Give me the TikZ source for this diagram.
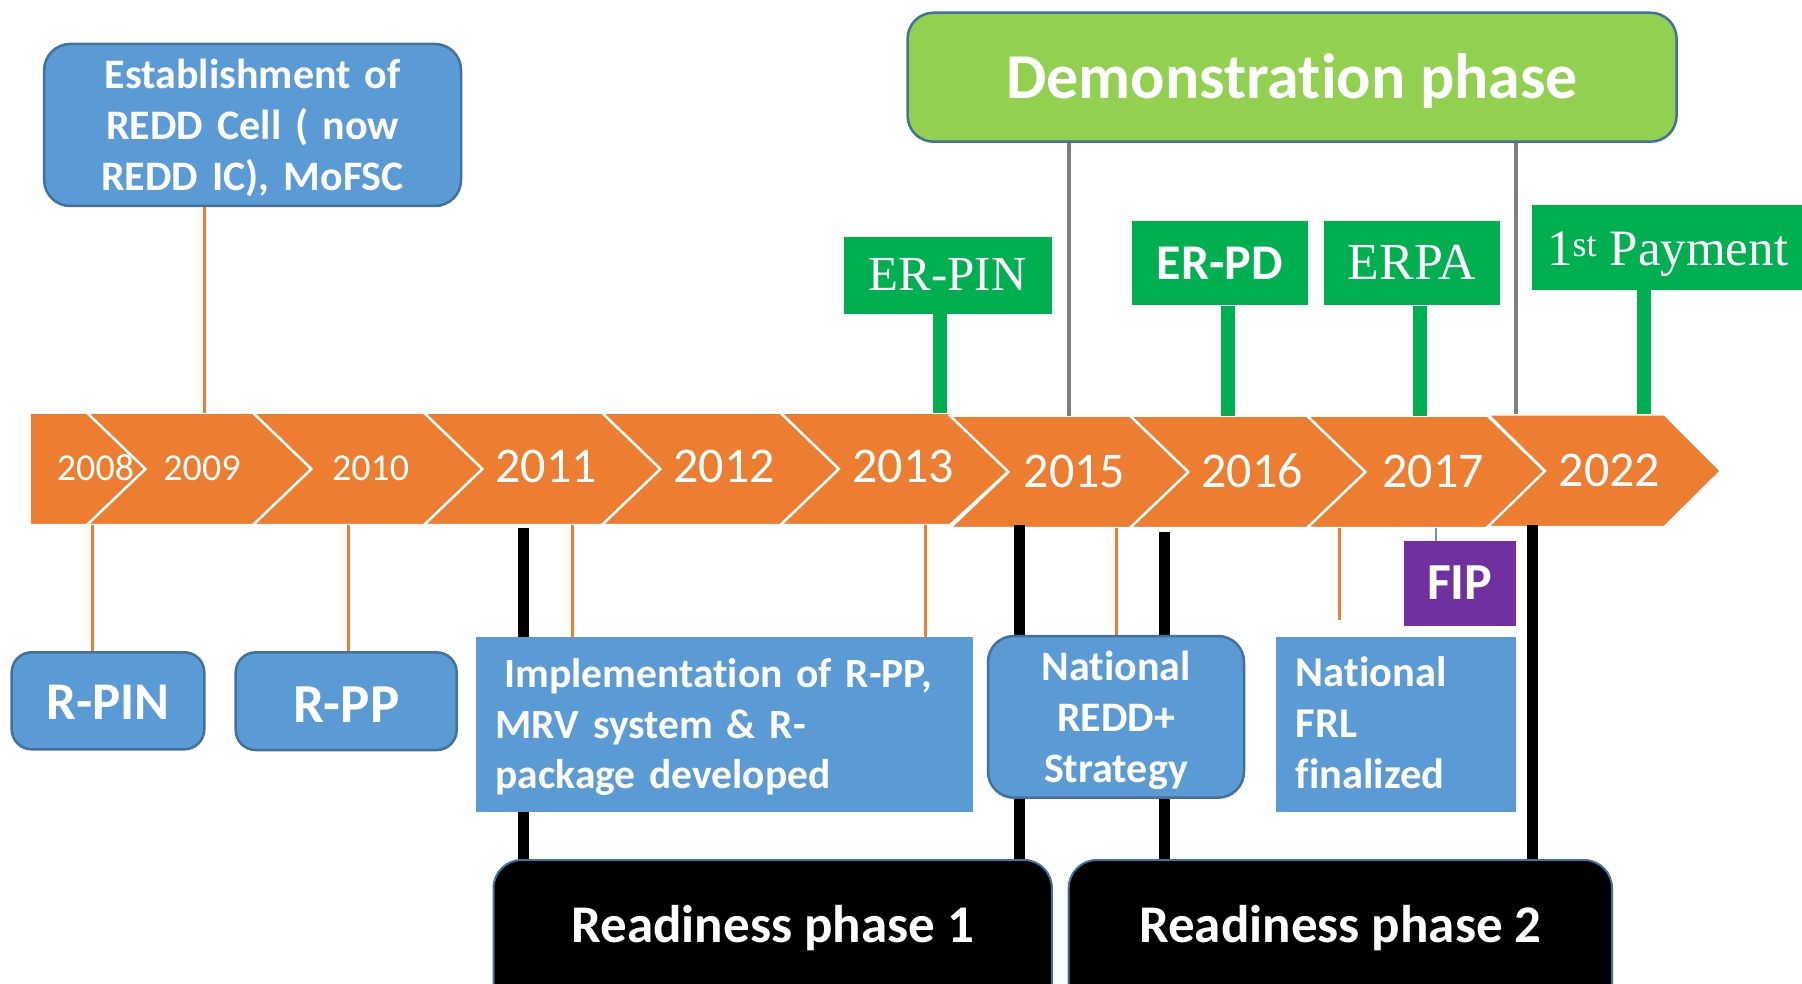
\documentclass[tikz,border=0pt]{standalone}
\usepackage{fontspec}
\setmainfont{Carlito}[Ligatures=CommonOff]
\newfontfamily\signserif{Liberation Serif}
\definecolor{bandorange}{HTML}{ED7D31}
\definecolor{boxblue}{HTML}{5B9BD5}
\definecolor{boxedge}{HTML}{41719C}
\definecolor{signgreen}{HTML}{00B050}
\definecolor{demogreen}{HTML}{92D050}
\definecolor{fippurple}{HTML}{7030A0}
\definecolor{linkgray}{HTML}{7F7F7F}
\pgfdeclarelayer{bandlayer}
\pgfdeclarelayer{linklayer}
\pgfsetlayers{bandlayer,linklayer,main}
\newcommand{\fsz}[2]{\fontsize{#1}{#2}\selectfont}
\newcommand{\tstrut}[1]{\rule{0pt}{#1}}
\newcommand{\bstrut}[1]{\rule[-#1]{0pt}{#1}}
\begin{document}
\begin{tikzpicture}[x=1pt,y=-1pt,
  chevron/.style={fill=bandorange,draw=white,line width=2.4pt,line join=miter},
  yearsmall/.style={text=white,inner sep=0pt,anchor=base,font=\fsz{38}{46}},
  yearbig/.style={text=white,inner sep=0pt,anchor=base,font=\fsz{50}{60}},
  roundblue/.style={fill=boxblue,draw=boxedge,line width=2.5pt,rounded corners=26pt,text=white,inner sep=0pt},
  flatblue/.style={fill=boxblue,draw=none,text=white,inner sep=0pt},
  signbox/.style={fill=signgreen,draw=none,text=white,inner sep=0pt},
  readybox/.style={fill=black,draw=boxedge,line width=2pt,rounded corners=28pt,text=white,inner sep=0pt,font=\fsz{53}{60}\bfseries},
  orangelink/.style={draw=bandorange,line width=3pt},
  graylink/.style={draw=linkgray,line width=4pt},
  postlink/.style={draw=signgreen,line width=14pt},
  blacklink/.style={draw=black,line width=11pt},
  bluelink/.style={draw=boxblue,line width=2pt},
]
\useasboundingbox (0,0) rectangle (1802,984);
\clip (0,0) rectangle (1802,984);

% ---------- chevron band ----------
\begin{pgfonlayer}{bandlayer}
\path[chevron] (29.7,412.7) -- (87,412.7) -- (145.5,469) -- (87,525) -- (29.7,525) -- cycle;
\path[chevron] (87,412.7) -- (253,412.7) -- (311.5,469) -- (253,525) -- (87,525) -- (145.5,469) -- cycle;
\path[chevron] (253,412.7) -- (424,412.7) -- (482.5,469) -- (424,525) -- (253,525) -- (311.5,469) -- cycle;
\path[chevron] (424,412.7) -- (602,412.7) -- (660.5,469) -- (602,525) -- (424,525) -- (482.5,469) -- cycle;
\path[chevron] (602,412.7) -- (780.5,412.7) -- (839,469) -- (780.5,525) -- (602,525) -- (660.5,469) -- cycle;
\path[chevron] (780.5,412.7) -- (950,412.7) -- (1010,470) -- (950,525) -- (780.5,525) -- (839,469) -- cycle;
\path[chevron] (950,415.7) -- (1130,415.7) -- (1188.5,472) -- (1130,528) -- (950,528) -- (1008.5,472) -- cycle;
\path[chevron] (1130,415.7) -- (1307,415.7) -- (1365.5,472) -- (1307,528) -- (1130,528) -- (1188.5,472) -- cycle;
\path[chevron] (1307,415.7) -- (1487.5,415.7) -- (1545,471.5) -- (1487.5,528) -- (1307,528) -- (1365.5,472) -- cycle;
\path[chevron] (1487.5,414.3) -- (1664.5,414.3) -- (1721,471) -- (1664.5,527) -- (1487.5,527) -- (1545,471) -- cycle;
\end{pgfonlayer}

% ---------- year labels ----------
\node[yearsmall] (y2008) at (95.5,480.7) {2008};
\node[yearsmall] (y2009) at (202,480.7) {2009};
\node[yearsmall] (y2010) at (370.7,480.7) {2010};
\node[yearbig] (y2011) at (546,482.7) {2011};
\node[yearbig] (y2012) at (724,482.7) {2012};
\node[yearbig] (y2013) at (903,482.7) {2013};
\node[yearbig] (y2015) at (1074.6,487.3) {2015};
\node[yearbig] (y2016) at (1252.3,487.3) {2016};
\node[yearbig] (y2017) at (1433,487.3) {2017};
\node[yearbig] (y2022) at (1609.5,486) {2022};

% ---------- boxes above ----------
\node[roundblue,minimum width=416.8pt,minimum height=162pt,text width=400pt,align=center,
      font=\fsz{42}{51}\bfseries] (est) at (252.6,125)
      {\tstrut{44pt}Establishment of\\REDD Cell ( now\\REDD IC), MoFSC\bstrut{15pt}};
\node[fill=demogreen,draw=boxedge,line width=2.5pt,rounded corners=26pt,text=white,inner sep=0pt,
      minimum width=769pt,minimum height=129pt,text height=46pt,text depth=3.8pt,
      font=\fsz{64}{70}\bfseries] (demo) at (1292.1,77.2) {Demonstration phase};
\node[signbox,minimum width=207.7pt,minimum height=77pt,text height=34pt,text depth=3.6pt,
      font=\signserif\fsz{49}{56}] (erpin) at (947.7,275.8) {ER-PIN};
\node[signbox,minimum width=175.7pt,minimum height=84.3pt,text height=36pt,text depth=2.4pt,
      font=\fsz{50}{56}\bfseries] (erpd) at (1219.9,263.2) {ER-PD};
\node[signbox,minimum width=176pt,minimum height=84.3pt,text height=36pt,text depth=2.4pt,
      font=\signserif\fsz{52}{56}] (erpa) at (1412,263.2) {ERPA};
\node[signbox,minimum width=271.4pt,minimum height=84.7pt,text height=40pt,text depth=3.3pt,
      font=\signserif\fsz{51}{56}] (pay) at (1667.7,247.35) {1\textsuperscript{st} Payment};

% ---------- boxes below ----------
\node[roundblue,rounded corners=20pt,minimum width=192.6pt,minimum height=97pt,text height=40pt,text depth=3pt,
      font=\fsz{53}{60}\bfseries] (rpin) at (108,700.8) {R-PIN};
\node[roundblue,rounded corners=20pt,minimum width=221pt,minimum height=97.7pt,text height=45pt,text depth=2pt,
      font=\fsz{55}{60}\bfseries] (rpp) at (346.2,701.2) {R-PP};
\node[flatblue,minimum width=496.6pt,minimum height=174.7pt,text width=457.4pt,inner xsep=19.6pt,align=left,
      font=\fsz{41.5}{50.5}\bfseries] (impl) at (724.3,724.35)
      {\tstrut{44pt}\hspace*{9pt}Implementation of R-PP,\\MRV system \& R-\\package developed\bstrut{16.7pt}};
\node[roundblue,minimum width=256pt,minimum height=161.7pt,text width=240pt,align=center,
      font=\fsz{42}{51}\bfseries] (natl) at (1116,716.85)
      {\tstrut{44pt}National\\REDD+\\Strategy\bstrut{14.7pt}};
\node[fill=fippurple,text=white,inner sep=0pt,minimum width=111.9pt,minimum height=84.7pt,
      text height=36pt,text depth=2.8pt,font=\fsz{52}{60}\bfseries] (fip) at (1459.75,583.35) {FIP};
\node[flatblue,minimum width=239.3pt,minimum height=174.4pt,text width=200.5pt,inner xsep=19.4pt,align=left,
      font=\fsz{42.5}{50.8}\bfseries] (frl) at (1396,724.5)
      {\tstrut{44pt}National\\FRL\\finalized\bstrut{18pt}};
\node[readybox,minimum width=558.4pt,minimum height=170pt,text height=30pt,text depth=35.4pt]
      (rp1) at (772.7,945) {Readiness phase 1};
\node[readybox,minimum width=543.3pt,minimum height=170pt,text height=30pt,text depth=34.6pt]
      (rp2) at (1340.35,945) {Readiness phase 2};

% ---------- connectors ----------
\begin{pgfonlayer}{linklayer}
\coordinate (t2009) at (204.5,412.7);
\draw[orangelink] (est.south -| t2009) -- (t2009);
\coordinate (tdemoA) at (1068.5,415.7);
\coordinate (tdemoB) at (1516,414.3);
\draw[graylink] (demo.south -| tdemoA) -- (tdemoA);
\draw[graylink] (demo.south -| tdemoB) -- (tdemoB);
\coordinate (terpin) at (940.3,412.7);
\coordinate (terpd) at (1228.3,415.7);
\coordinate (terpa) at (1419.5,415.7);
\coordinate (tpay) at (1643.5,414.3);
\draw[postlink] (erpin.south -| terpin) -- (terpin);
\draw[postlink] (erpd.south -| terpd) -- (terpd);
\draw[postlink] (erpa.south -| terpa) -- (terpa);
\draw[postlink] (pay.south -| tpay) -- (tpay);

\coordinate (b2008) at (92.3,525);
\coordinate (b2010) at (348.3,525);
\coordinate (b2011) at (572.8,525);
\coordinate (b2013) at (925,525);
\coordinate (b2015) at (1116.4,528);
\coordinate (b2016) at (1339.8,528);
\coordinate (frlend) at (1339.8,620);
\coordinate (b2017) at (1436.2,528);
\draw[orangelink] (b2008) -- (rpin.north -| b2008);
\draw[orangelink] (b2010) -- (rpp.north -| b2010);
\draw[orangelink] (b2011) -- (impl.north -| b2011);
\draw[orangelink] (b2013) -- (impl.north -| b2013);
\draw[orangelink] (b2015) -- (natl.north -| b2015);
\draw[orangelink] (b2016) -- (frlend);
\draw[bluelink] (b2017) -- (fip.north -| b2017);

\coordinate (k1) at (523.7,528);
\coordinate (k2) at (1019.6,525);
\coordinate (k3) at (1164,531.7);
\coordinate (k4) at (1532.4,525);
\draw[blacklink] (k1) -- (rp1.north -| k1);
\draw[blacklink] (k2) -- (rp1.north -| k2);
\draw[blacklink] (k3) -- (rp2.north -| k3);
\draw[blacklink] (k4) -- (rp2.north -| k4);
\end{pgfonlayer}
\end{tikzpicture}
\end{document}
